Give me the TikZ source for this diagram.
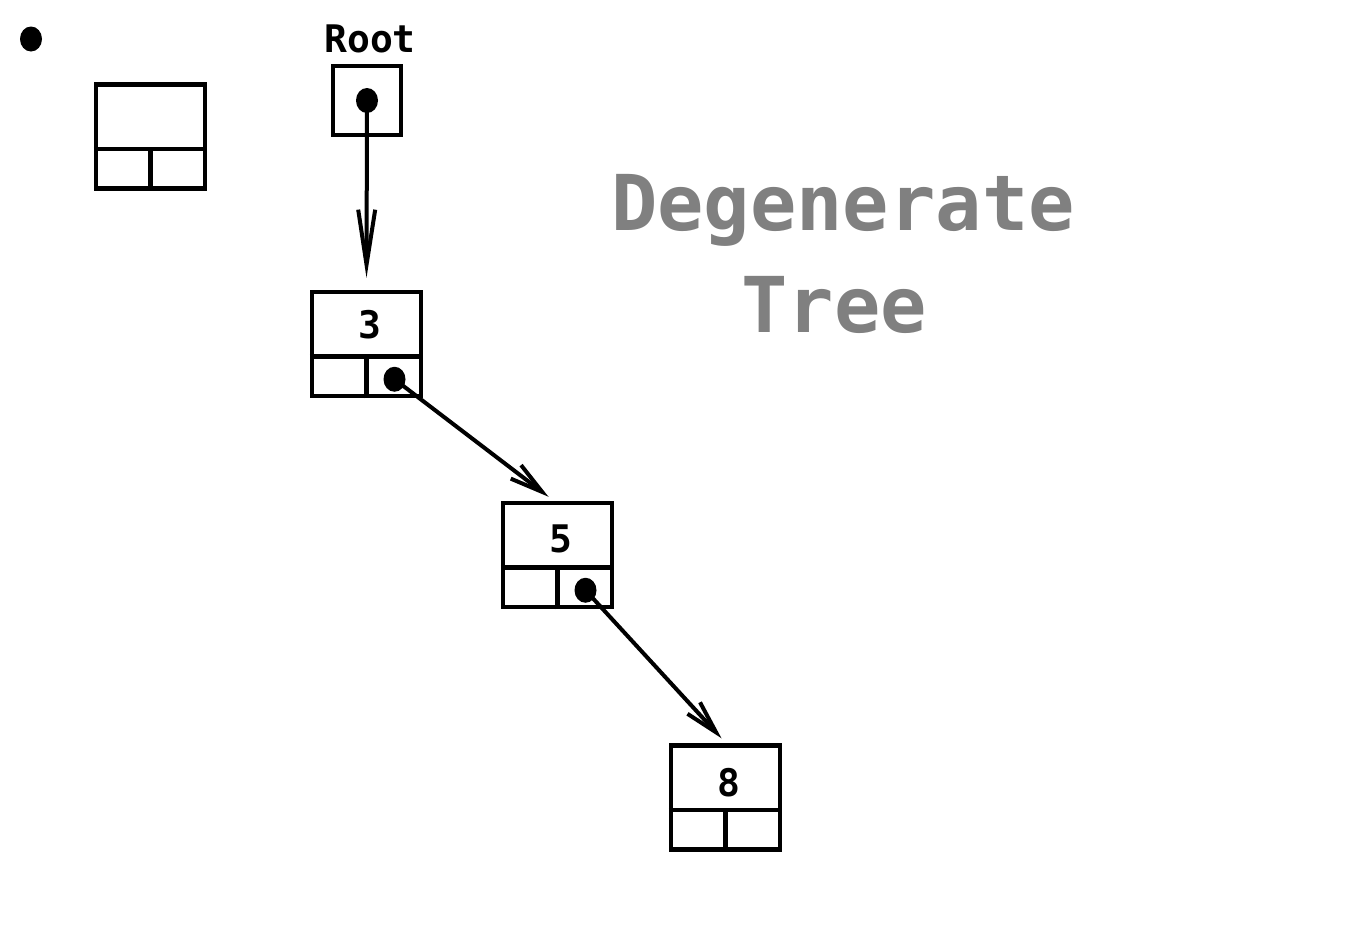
\documentclass[tikz,border=0pt]{standalone}
\usepackage{fontspec}
\setmonofont{DejaVu Sans Mono}
\usepackage{xcolor}
\usetikzlibrary{positioning,arrows.meta,shapes.geometric}
\definecolor{titlegray}{RGB}{128,128,128}
\tikzset{
  treebox/.style  = {rectangle, draw=black, line width=4.5pt, minimum width=109pt,
                     minimum height=104pt, inner sep=0pt},
  rootbox/.style  = {rectangle, draw=black, line width=4.5pt, minimum width=68pt,
                     minimum height=69pt, inner sep=0pt},
  ptr/.style      = {ellipse, fill=black, minimum width=22pt, minimum height=25pt, inner sep=0pt},
  cell/.style     = {line width=4.5pt},
  val/.style      = {font=\ttfamily\bfseries\fontsize{38}{42}\selectfont, inner sep=0pt},
  lbl/.style      = {font=\ttfamily\bfseries\fontsize{38}{44}\selectfont, inner sep=0pt},
  heading/.style  = {font=\ttfamily\bfseries\fontsize{77}{90}\selectfont, text=titlegray,
                     inner sep=0pt},
  link/.style     = {-{Straight Barb[length=33pt,width=17pt]}, line width=4pt},
  rootlink/.style = {-{Straight Barb[length=55pt,width=17pt]}, line width=4pt},
}

\begin{document}
\begin{tikzpicture}[x=1pt, y=-1pt]
  \useasboundingbox (0,0) rectangle (1352,932);

  % legend
  \node[ptr] (legdot) at (31,39) {};
  \node[treebox] (legend) at (150.5,136.5) {};

  % root pointer
  \node[rootbox] (root) at (367,100.5) {};
  \node[lbl, above=11pt of root, xshift=3pt] (rootlbl) {Root};
  \node[ptr] (rootdot) at (root.center) {};

  % tree nodes
  \node[treebox] (n3) at (366.5,344) {};
  \node[treebox] (n5) at (557.5,555) {};
  \node[treebox] (n8) at (725.5,797.5) {};

  \draw[cell] ([yshift=42pt]legend.south west) -- ([yshift=42pt]legend.south east);
  \draw[cell] (legend.south) -- ([yshift=42pt]legend.south);
  \draw[cell] ([yshift=42pt]n3.south west) -- ([yshift=42pt]n3.south east);
  \draw[cell] (n3.south) -- ([yshift=42pt]n3.south);
  \draw[cell] ([yshift=42pt]n5.south west) -- ([yshift=42pt]n5.south east);
  \draw[cell] (n5.south) -- ([yshift=42pt]n5.south);
  \draw[cell] ([yshift=42pt]n8.south west) -- ([yshift=42pt]n8.south east);
  \draw[cell] (n8.south) -- ([yshift=42pt]n8.south);

  \node[val] (v3) at ([xshift=3pt,yshift=-35pt]n3.north) {3};
  \node[val] (v5) at ([xshift=3pt,yshift=-38pt]n5.north) {5};
  \node[val] (v8) at ([xshift=3pt,yshift=-39pt]n8.north) {8};

  \node[ptr] (p3) at ([xshift=28pt,yshift=19pt]n3.south) {};
  \node[ptr] (p5) at ([xshift=28pt,yshift=19pt]n5.south) {};

  % title
  \node[heading, anchor=base] (deg) at (843,230) {Degenerate};
  \node[heading, anchor=base] (tree) at (834,332) {Tree};

  % links
  \draw[rootlink] (rootdot.center) -- ([yshift=12pt]n3.north);
  \draw[link] (p3.center) -- ([xshift=-9pt,yshift=4pt]n5.north);
  \draw[link] (p5.center) -- ([xshift=-4pt,yshift=5pt]n8.north);
\end{tikzpicture}
\end{document}
